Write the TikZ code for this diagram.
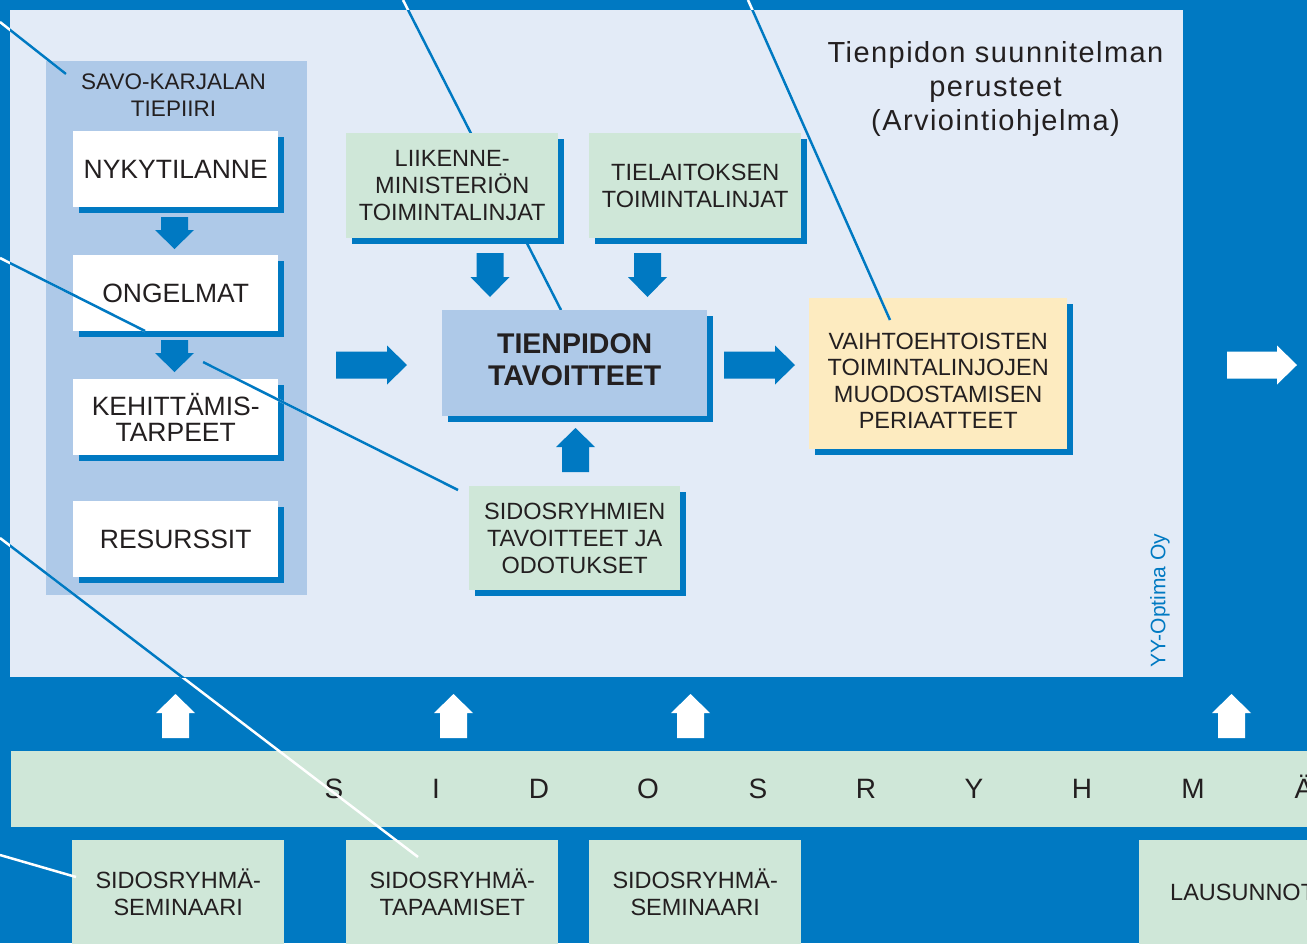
\documentclass[tikz,border=0pt]{standalone}
\usepackage{fontspec}
\setmainfont{Liberation Sans}
\newfontfamily\titlefont[LetterSpace=5]{Liberation Sans}
\usetikzlibrary{shadows}

\definecolor{tpblue}{HTML}{0079C2}
\definecolor{tppanel}{HTML}{E3EBF7}
\definecolor{tpcol}{HTML}{AEC9E8}
\definecolor{tpgreen}{HTML}{CFE7D8}
\definecolor{tpyellow}{HTML}{FDEBC0}
\definecolor{tptext}{HTML}{231F20}

\tikzset{
  pics/blockarrow/.style 2 args={code={
    \fill (0,-13.5) -- (#1-#2,-13.5) -- (#1-#2,-19.5) -- (#1,0)
      -- (#1-#2,19.5) -- (#1-#2,13.5) -- (0,13.5) -- cycle;
  }}
}

% leader lines: white on the blue ground, blue on the panel
\newcommand\backleader[1]{\draw[leader,#1] (eFrom) -- (eTo);}
\newcommand\frontleaders[1]{%
  \draw[leader,#1] (aFrom) -- (aTo);
  \draw[leader,#1] (bFrom) -- (bMid);
  \draw[leader,#1] (bRe) -- (bTo);
  \draw[leader,#1] (cFrom) -- (cTo);
  \draw[leader,#1] (dFrom) -- (dTo);
  \draw[leader,#1] (fFrom) -- (fTo);}
\newcommand\twotone[1]{#1{white}%
  \begin{scope}\clip (10,10) rectangle (1183,677); #1{tpblue}\end{scope}}

\begin{document}
\begin{tikzpicture}%
        [x=1pt, y=-1pt,
        plate/.style={rectangle, inner sep=0pt, anchor=north west},
        shadowed/.style={drop shadow={shadow xshift=5.5pt, shadow yshift=-5.5pt, fill=tpblue, opacity=1}},
        stepbox/.style={plate, shadowed, fill=white, minimum width=205pt, minimum height=76pt,
            align=center, text=tptext, font=\fontsize{26.5}{26}\selectfont},
        greenbox/.style={plate, shadowed, fill=tpgreen, align=center, text=tptext,
            font=\fontsize{23.5}{27}\selectfont},
        lowbox/.style={plate, fill=tpgreen, minimum width=212pt, minimum height=104pt,
            align=center, text=tptext, font=\fontsize{23.5}{27}\selectfont},
        bandletter/.style={text=tptext, inner sep=0pt, text height=20pt, text depth=0pt,
            font=\fontsize{28}{28}\selectfont},
        leader/.style={line width=2.5pt},
        bluearrow/.style={color=tpblue},
        whitearrow/.style={color=white}]

    \useasboundingbox (0,0) rectangle (1307,943);
    \fill[tpblue] (0,0) rectangle (1307,943);

    %% free ends of the leader lines
    \coordinate (aFrom) at (0,22);    \coordinate (aTo) at (66,74);
    \coordinate (bFrom) at (0,258);   \coordinate (bMid) at (145,331);
    \coordinate (bRe) at (203,362);   \coordinate (bTo) at (458,490);
    \coordinate (cFrom) at (0,538);   \coordinate (cTo) at (418,857);
    \coordinate (dFrom) at (0,855);   \coordinate (dTo) at (76,877);
    \coordinate (eFrom) at (403,0);   \coordinate (eTo) at (561,310);
    \coordinate (fFrom) at (748,0);   \coordinate (fTo) at (890,320);

    %%
    %% Panel and district column
    %%
    \node[plate, fill=tppanel, minimum width=1173pt, minimum height=667pt] (panel) at (10,10) {};
    \twotone{\backleader}
    \node[plate, fill=tpcol, minimum width=261pt, minimum height=534pt] (col) at (46,61) {};
    \node[text=tptext, align=center, font=\fontsize{22.5}{27}\selectfont] (colname) at (173.5,95)
        {SAVO-KARJALAN\\TIEPIIRI};

    \node[stepbox] (nyky) at (73,131) {NYKYTILANNE};
    \node[stepbox] (ongel) at (73,255) {ONGELMAT};
    \node[stepbox] (kehit) at (73,379) {KEHITTÄMIS-\\TARPEET};
    \node[stepbox] (resurs) at (73,501) {RESURSSIT};
    \pic[rotate=-90, bluearrow] at (174.5,217) {blockarrow={32}{19}};
    \pic[rotate=-90, bluearrow] at (174.5,340) {blockarrow={32}{19}};

    %%
    %% Goals in the middle
    %%
    \node[greenbox, minimum width=212pt, minimum height=105pt] (liik) at (346,133)
        {LIIKENNE-\\MINISTERIÖN\\TOIMINTALINJAT};
    \node[greenbox, minimum width=212pt, minimum height=105pt] (tiel) at (589,133)
        {TIELAITOKSEN\\TOIMINTALINJAT};
    \node[plate, shadowed, fill=tpcol, minimum width=265pt, minimum height=106pt, align=center,
        text=tptext, font=\bfseries\fontsize{28.5}{32}\selectfont] (tavo) at (442,310)
        {TIENPIDON\\TAVOITTEET\rule[-8pt]{0pt}{8pt}};
    \node[greenbox, minimum width=211pt, minimum height=104pt] (odot) at (469,486)
        {SIDOSRYHMIEN\\TAVOITTEET JA\\ODOTUKSET};
    \node[plate, shadowed, fill=tpyellow, minimum width=258pt, minimum height=151pt, align=center,
        text=tptext, font=\fontsize{23.5}{26.5}\selectfont] (periaat) at (809,298)
        {\rule{0pt}{30.5pt}VAIHTOEHTOISTEN\\TOIMINTALINJOJEN\\MUODOSTAMISEN\\PERIAATTEET};

    \pic[rotate=-90, bluearrow] at (490,253) {blockarrow={44}{20}};
    \pic[rotate=-90, bluearrow] at (647.5,253) {blockarrow={44}{20}};
    \pic[bluearrow] at (336,365) {blockarrow={71}{20}};
    \pic[bluearrow] at (724,365) {blockarrow={71}{20}};
    \pic[rotate=90, bluearrow] at (575.5,472) {blockarrow={44}{19}};

    \node[text=tptext, align=center, font=\titlefont\fontsize{29}{34}\selectfont] (otsikko) at (995.5,88.5)
        {Tienpidon suunnitelman\\perusteet\\(Arviointiohjelma)};
    \node[rotate=90, text=tpblue, font=\fontsize{21}{21}\selectfont] (optima) at (1160,600.5) {YY-Optima Oy};

    \pic[whitearrow] at (1227,365) {blockarrow={70}{20}};

    %%
    %% Stakeholders at the bottom
    %%
    \foreach \xx in {175.5,453.5,690.5,1231.5}
        \pic[rotate=90, whitearrow] at (\xx,738) {blockarrow={44}{19}};
    \node[plate, fill=tpgreen, minimum width=1296pt, minimum height=76pt] (band) at (11,751) {};
    \foreach \ch/\xx in {S/334,I/436,D/539,O/648,S/758,R/866,Y/974,H/1082,M/1193,Ä/1304}
        \node[bandletter] (letter\xx) at (\xx,788) {\ch};

    \node[lowbox] (sem1) at (72,840) {SIDOSRYHMÄ-\\SEMINAARI};
    \node[lowbox] (tapaa) at (346,840) {SIDOSRYHMÄ-\\TAPAAMISET};
    \node[lowbox] (sem2) at (589,840) {SIDOSRYHMÄ-\\SEMINAARI};
    \node[lowbox, minimum width=0pt, inner xsep=31pt] (lausu) at (1139,840) {LAUSUNNOT};

    \twotone{\frontleaders}
\end{tikzpicture}
\end{document}
